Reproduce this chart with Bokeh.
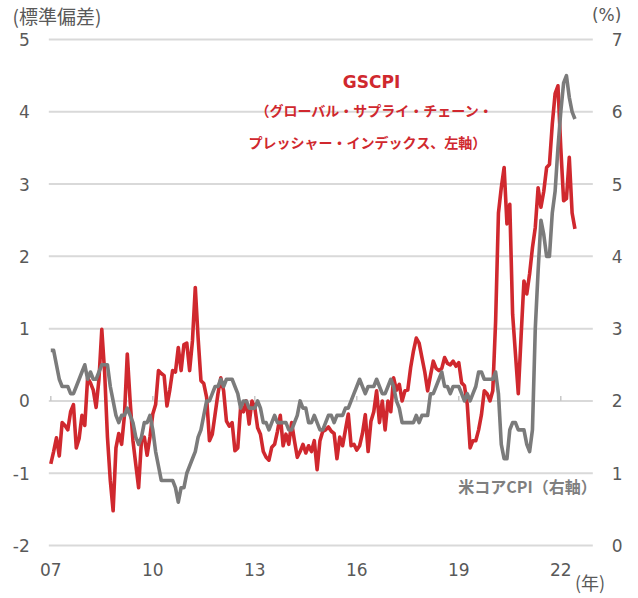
from bokeh.plotting import figure
from bokeh.models import Range1d, LinearAxis, FixedTicker, Label
from bokeh.embed import file_html
from bokeh.resources import INLINE

# ---- data (monthly, Jan 2007 - Jun 2022) ----
year_labels = ["07", "10", "13", "16", "19", "22"]
year_ticks = [0, 36, 72, 108, 144, 180]   # month index of each labelled January

# GSCPI (standard deviations, left axis)
gscpi = [
    -0.87, -0.70, -0.51, -0.76, -0.30, -0.34, -0.40, -0.15, -0.05, -0.65, -0.52, -0.20,   # 2007
    -0.34, 0.32, 0.25, 0.15, -0.09, 0.30, 0.99, 0.40, -0.50, -1.10, -1.52, -0.65,         # 2008
    -0.45, -0.60, -0.20, 0.65, 0.00, -0.55, -0.88, -1.20, -0.55, -0.50, -0.75, -0.50,     # 2009
    -0.18, -0.05, 0.42, 0.38, 0.35, -0.07, 0.15, 0.42, 0.40, 0.74, 0.42, 0.78,            # 2010
    0.80, 0.42, 0.83, 1.57, 0.87, 0.28, 0.24, 0.05, -0.55, -0.46, -0.18, 0.10,            # 2011
    0.32, 0.14, -0.28, -0.35, -0.30, -0.69, -0.65, -0.09, -0.15, 0.00, -0.32, 0.00,       # 2012
    -0.09, -0.37, -0.46, -0.70, -0.78, -0.82, -0.64, -0.60, -0.42, -0.20, -0.62, -0.46,   # 2013
    -0.60, -0.30, -0.55, -0.78, -0.70, -0.60, -0.72, -0.62, -0.70, -0.55, -0.95, -0.55,   # 2014
    -0.42, -0.40, -0.36, -0.42, -0.45, -0.80, -0.50, -0.62, -0.40, -0.18, -0.62, -0.60,   # 2015
    -0.68, -0.62, -0.45, -0.19, -0.70, -0.28, -0.15, 0.14, -0.30, 0.00, -0.40, 0.00,      # 2016
    -0.15, 0.32, 0.15, 0.23, 0.00, 0.14, 0.15, 0.46, 0.69, 0.87, 0.80, 0.60,              # 2017
    0.40, 0.14, 0.35, 0.55, 0.45, 0.42, 0.45, 0.60, 0.52, 0.50, 0.55, 0.48,               # 2018
    0.53, 0.25, 0.21, -0.05, -0.65, -0.55, -0.55, -0.40, -0.19, 0.14, 0.10, 0.00,         # 2019
    0.14, 1.10, 2.60, 2.95, 3.23, 2.45, 2.72, 1.20, 0.65, 0.10, 0.90, 1.66,               # 2020
    1.48, 1.76, 2.12, 2.40, 2.95, 2.68, 2.90, 3.23, 3.27, 3.83, 4.25, 4.36,               # 2021
    3.50, 2.77, 2.80, 3.37, 2.60, 2.38,                                                   # 2022
]

# US core CPI (% y/y, right axis)
core_cpi = [
    2.7, 2.7, 2.5, 2.3, 2.2, 2.2, 2.2, 2.1, 2.1, 2.2, 2.3, 2.4,   # 2007
    2.5, 2.3, 2.4, 2.3, 2.3, 2.4, 2.5, 2.5, 2.5, 2.2, 2.0, 1.8,   # 2008
    1.7, 1.8, 1.8, 1.9, 1.8, 1.7, 1.5, 1.4, 1.5, 1.7, 1.7, 1.8,   # 2009
    1.6, 1.3, 1.1, 0.9, 0.9, 0.9, 0.9, 0.9, 0.8, 0.6, 0.8, 0.8,   # 2010
    1.0, 1.1, 1.2, 1.3, 1.5, 1.6, 1.8, 2.0, 2.0, 2.1, 2.2, 2.2,   # 2011
    2.3, 2.2, 2.3, 2.3, 2.3, 2.2, 2.1, 1.9, 2.0, 2.0, 1.9, 1.9,   # 2012
    1.9, 2.0, 1.9, 1.7, 1.7, 1.6, 1.7, 1.8, 1.7, 1.7, 1.7, 1.7,   # 2013
    1.6, 1.6, 1.7, 1.8, 2.0, 1.9, 1.9, 1.7, 1.7, 1.8, 1.7, 1.6,   # 2014
    1.6, 1.7, 1.8, 1.8, 1.7, 1.8, 1.8, 1.8, 1.9, 1.9, 2.0, 2.1,   # 2015
    2.2, 2.3, 2.2, 2.1, 2.2, 2.2, 2.2, 2.3, 2.2, 2.1, 2.1, 2.2,   # 2016
    2.3, 2.2, 2.0, 1.9, 1.7, 1.7, 1.7, 1.7, 1.7, 1.8, 1.7, 1.8,   # 2017
    1.8, 1.8, 2.1, 2.1, 2.2, 2.3, 2.4, 2.2, 2.2, 2.1, 2.2, 2.2,   # 2018
    2.2, 2.1, 2.0, 2.1, 2.0, 2.1, 2.2, 2.4, 2.4, 2.3, 2.3, 2.3,   # 2019
    2.3, 2.4, 2.1, 1.4, 1.2, 1.2, 1.6, 1.7, 1.7, 1.6, 1.6, 1.6,   # 2020
    1.4, 1.3, 1.6, 3.0, 3.8, 4.5, 4.3, 4.0, 4.0, 4.6, 4.9, 5.5,   # 2021
    6.0, 6.4, 6.5, 6.2, 6.0, 5.9,                                 # 2022
]

months = list(range(len(gscpi)))
left_ticks = [-2, -1, 0, 1, 2, 3, 4, 5]
right_ticks = [0, 1, 2, 3, 4, 5, 6, 7]

RED = "#d0282e"
GRAY = "#7b7b7b"
LABEL = "#595959"
GRID = "#d9d9d9"

# plotting area (data units): months -0.7 .. 191.3, left axis -2 .. 5
X_LO, X_HI = -0.7, 191.3

p = figure(width=638, height=598, output_backend="svg", toolbar_location=None,
           x_range=Range1d(-17.75, 207.43), y_range=Range1d(-2.733, 5.5395),
           min_border_left=0, min_border_right=0, min_border_top=0, min_border_bottom=0)
p.outline_line_color = None
p.background_fill_color = "white"
p.border_fill_color = "white"
p.extra_y_ranges = {"right": Range1d(-0.733, 7.5395)}
p.xgrid.visible = False
p.ygrid.visible = False

def style_axis(ax, standoff):
    ax.axis_line_color = None
    ax.major_tick_line_color = None
    ax.minor_tick_line_color = None
    ax.major_tick_out = 0
    ax.major_tick_in = 0
    ax.major_label_standoff = standoff
    ax.major_label_text_font = "DejaVu Sans"
    ax.major_label_text_font_size = "17px"
    ax.major_label_text_color = LABEL

ly = p.yaxis[0]
ly.ticker = FixedTicker(ticks=left_ticks)
ly.major_label_overrides = {t: str(t) for t in left_ticks}
ly.fixed_location = X_LO
style_axis(ly, 19)

bx = p.xaxis[0]
bx.ticker = FixedTicker(ticks=year_ticks)
bx.major_label_overrides = {t: lab for t, lab in zip(year_ticks, year_labels)}
bx.fixed_location = left_ticks[0]
style_axis(bx, 17)

ry = LinearAxis(y_range_name="right", ticker=FixedTicker(ticks=right_ticks))
ry.fixed_location = X_HI
style_axis(ry, 19)
p.add_layout(ry, "right")

# horizontal grid lines across the plotting area
p.segment(x0=[X_LO] * len(left_ticks), x1=[X_HI] * len(left_ticks), y0=left_ticks, y1=left_ticks,
          line_color=GRID, line_width=2)
# small tick marks on the zero line at each labelled year
p.segment(x0=year_ticks, y0=[0] * len(year_ticks), x1=year_ticks, y1=[0.07] * len(year_ticks),
          line_color="#c8c8c8", line_width=1.5)

p.line(months, gscpi, line_color=RED, line_width=3.6, line_join="round")
p.line(months, core_cpi, y_range_name="right", line_color=GRAY, line_width=3.6, line_join="round")

JP = "Noto Sans CJK JP"

def add_label(x, y, text, color, size, align="center", font=JP, style="bold"):
    p.add_layout(Label(x=x, y=y, text=text, text_color=color, text_font=font,
                       text_font_size=size, text_font_style=style, text_align=align,
                       text_baseline="middle"))

add_label(113.2, 4.41, "GSCPI", RED, "17px", font="DejaVu Sans")
add_label(114.25, 4.02, "（グローバル・サプライ・チェーン・", RED, "14px")
add_label(111.8, 3.58, "プレッシャー・インデックス、左軸）", RED, "14px")
add_label(192.7, -1.17, "米コアCPI（右軸）", "#7f7f7f", "16px", align="right")

add_label(-13.51, 5.33, "(標準偏差)", LABEL, "19px", align="left", style="normal")
add_label(191.0, 5.34, "(%)", LABEL, "17px", align="left", font="DejaVu Sans", style="normal")
add_label(185.0, -2.51, "(年)", LABEL, "18px", align="left", style="normal")

open("out.html", "w").write(file_html(p, INLINE))
